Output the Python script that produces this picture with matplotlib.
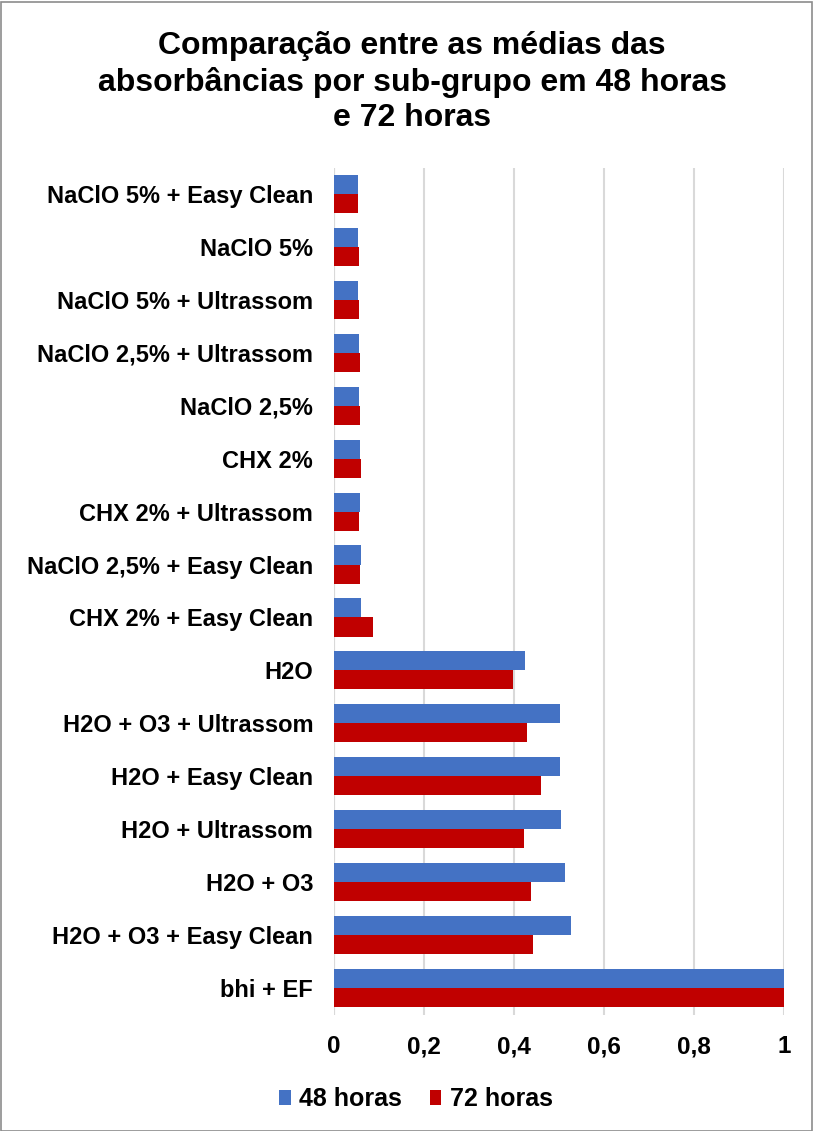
import matplotlib
matplotlib.use("Agg")
import matplotlib.pyplot as plt
from matplotlib.patches import Rectangle
from matplotlib.ticker import FuncFormatter

plt.rcParams['font.family'] = ['Liberation Sans', 'DejaVu Sans']

categories = [
    "NaClO 5% + Easy Clean",
    "NaClO 5%",
    "NaClO 5% + Ultrassom",
    "NaClO 2,5% + Ultrassom",
    "NaClO 2,5%",
    "CHX 2%",
    "CHX 2% + Ultrassom",
    "NaClO 2,5% + Easy Clean",
    "CHX 2% + Easy Clean",
    "H2O",
    "H2O + O3 + Ultrassom",
    "H2O + Easy Clean",
    "H2O + Ultrassom",
    "H2O + O3",
    "H2O + O3 + Easy Clean",
    "bhi + EF",
]
h48 = [0.053, 0.053, 0.053, 0.055, 0.055, 0.058, 0.058, 0.061, 0.061,
       0.425, 0.502, 0.502, 0.505, 0.514, 0.527, 1.0]
h72 = [0.053, 0.055, 0.055, 0.058, 0.058, 0.061, 0.055, 0.058, 0.086,
       0.397, 0.428, 0.459, 0.422, 0.437, 0.443, 1.0]
series_labels = ["48 horas", "72 horas"]
xticks = [0, 0.2, 0.4, 0.6, 0.8, 1.0]

blue = "#4472C4"
red = "#C00000"

W, H = 814, 1131
fig = plt.figure(figsize=(W / 100, H / 100), dpi=100)
fig.patch.set_facecolor("white")
fig.patches.append(Rectangle((0.5 / W, 0.5 / H), 1 - 2.5 / W, 1 - 2 / H,
                             transform=fig.transFigure, fill=False,
                             edgecolor="#8c8c8c", linewidth=1.2))

ax = fig.add_axes([334 / W, 1 - 1014.5 / H, 450 / W, 847 / H])

pos = list(range(len(categories)))
bh = 0.36
ax.barh([p - bh / 2 for p in pos], h48, height=bh, color=blue,
        label=series_labels[0], zorder=3)
ax.barh([p + bh / 2 for p in pos], h72, height=bh, color=red,
        label=series_labels[1], zorder=3)

ax.set_ylim(len(categories) - 0.5, -0.5)
ax.set_xlim(0, 1)
ax.set_yticks(pos)
ax.set_yticklabels(categories, fontsize=17, fontweight="bold")
ax.set_xticks(xticks)
ax.xaxis.set_major_formatter(FuncFormatter(lambda v, _: f"{v:g}".replace(".", ",")))
for lbl in ax.get_xticklabels():
    lbl.set_fontsize(17.5)
    lbl.set_fontweight("bold")
ax.tick_params(axis="both", length=0)
ax.tick_params(axis="y", pad=15)
ax.tick_params(axis="x", pad=15)

ax.grid(axis="x", color="#d9d9d9", linewidth=1.5, zorder=0)
ax.axvline(0, color="#d9d9d9", linewidth=1.5, zorder=1)
for s in ax.spines.values():
    s.set_visible(False)

fig.text(412 / W, 1 - 82 / H,
         "Comparação entre as médias das\nabsorbâncias por sub-grupo em 48 horas\ne 72 horas",
         ha="center", va="center", fontsize=23, fontweight="bold",
         linespacing=1.22)

fig.legend(loc="center", bbox_to_anchor=(416 / W, 1 - 1099 / H), ncol=2,
           frameon=False, prop={"size": 18, "weight": "bold"},
           handlelength=0.45, handleheight=0.55, handletextpad=0.35,
           columnspacing=1.1)

fig.savefig("out.png", dpi=100)
